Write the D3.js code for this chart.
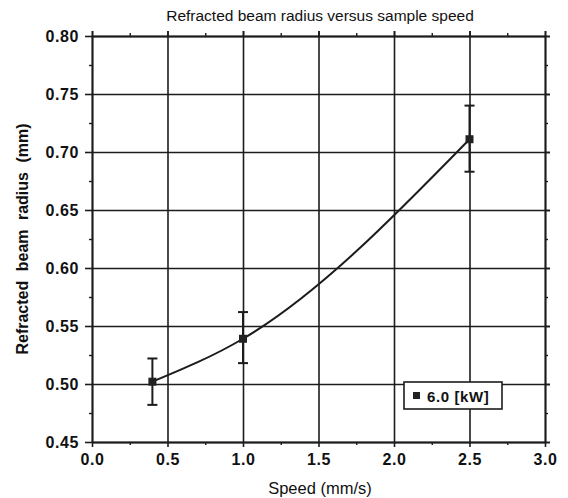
<!DOCTYPE html>
<html>
<head>
<meta charset="utf-8">
<script src="https://cdn.jsdelivr.net/npm/d3@7"></script>
<style>
  body { margin: 0; background: #fff; }
  svg { display: block; }
</style>
</head>
<body>
<div id="chart"></div>
<script>
// data
const speed = [0.4, 1.0, 2.5];
const radius = [0.502, 0.539, 0.711];
const errLow = [0.482, 0.518, 0.683];
const errHigh = [0.522, 0.562, 0.740];
const xTicks = [0.0, 0.5, 1.0, 1.5, 2.0, 2.5, 3.0];
const yTicks = [0.45, 0.50, 0.55, 0.60, 0.65, 0.70, 0.75, 0.80];
const xMinor = [0.25, 0.75, 1.25, 1.75, 2.25, 2.75];
const yMinor = [0.475, 0.525, 0.575, 0.625, 0.675, 0.725, 0.775];
const seriesName = "6.0 [kW]";

const width = 568;
const height = 498;
const margin = { top: 36, right: 23, bottom: 56, left: 92 };
const ink = "#1c1c1c";
const font = "Liberation Sans, Arial, sans-serif";

const svg = d3
  .select("#chart")
  .append("svg")
  .attr("width", width)
  .attr("height", height);

const x = d3
  .scaleLinear()
  .domain([0, 3])
  .range([margin.left, width - margin.right]);

const y = d3
  .scaleLinear()
  .domain([0.45, 0.8])
  .range([height - margin.bottom, margin.top]);

const plotW = x(3) - x(0);
const plotH = y(0.45) - y(0.8);

// grid lines (run a bit past the frame like the original)
svg
  .append("g")
  .attr("transform", `translate(${x(0)},0)`)
  .call(d3.axisRight(y).tickValues(yTicks).tickSize(plotW + 5).tickFormat(""))
  .call((g) => g.select(".domain").remove())
  .call((g) => g.selectAll("line").attr("stroke", ink).attr("stroke-width", 1.6));

svg
  .append("g")
  .attr("transform", `translate(0,${y(0.45)})`)
  .call(d3.axisTop(x).tickValues(xTicks).tickSize(plotH + 5).tickFormat(""))
  .call((g) => g.select(".domain").remove())
  .call((g) => g.selectAll("line").attr("stroke", ink).attr("stroke-width", 1.6));

// minor ticks, outward
const minorStyle = (g) => {
  g.select(".domain").remove();
  g.selectAll("line").attr("stroke", ink).attr("stroke-width", 1.4);
};
svg.append("g").attr("transform", `translate(${x(0)},0)`)
  .call(d3.axisLeft(y).tickValues(yMinor).tickSize(3).tickFormat("")).call(minorStyle);
svg.append("g").attr("transform", `translate(${x(3)},0)`)
  .call(d3.axisRight(y).tickValues(yMinor).tickSize(3).tickFormat("")).call(minorStyle);
svg.append("g").attr("transform", `translate(0,${y(0.8)})`)
  .call(d3.axisTop(x).tickValues(xMinor).tickSize(3).tickFormat("")).call(minorStyle);
svg.append("g").attr("transform", `translate(0,${y(0.45)})`)
  .call(d3.axisBottom(x).tickValues(xMinor).tickSize(3).tickFormat("")).call(minorStyle);

// major axes with labels
const labelStyle = (g) => {
  g.select(".domain").attr("stroke", ink).attr("stroke-width", 1.8);
  g.selectAll("line").attr("stroke", ink).attr("stroke-width", 1.6);
  g.selectAll("text")
    .attr("fill", "#111")
    .attr("font-family", font)
    .attr("font-size", "16px")
    .attr("font-weight", "bold")
    .attr("letter-spacing", "0.6px");
};

svg
  .append("g")
  .attr("transform", `translate(${x(0)},0)`)
  .call(d3.axisLeft(y).tickValues(yTicks).tickSize(7).tickSizeOuter(0).tickPadding(6).tickFormat(d3.format(".2f")))
  .call(labelStyle);

svg
  .append("g")
  .attr("transform", `translate(0,${y(0.45)})`)
  .call(d3.axisBottom(x).tickValues(xTicks).tickSize(5).tickSizeOuter(0).tickPadding(7).tickFormat(d3.format(".1f")))
  .call(labelStyle);

svg
  .append("g")
  .attr("transform", `translate(0,${y(0.8)})`)
  .call(d3.axisTop(x).tickValues(xTicks).tickSize(5).tickSizeOuter(0).tickFormat(""))
  .call(labelStyle);

svg
  .append("g")
  .attr("transform", `translate(${x(3)},0)`)
  .call(d3.axisRight(y).tickValues(yTicks).tickSize(5).tickSizeOuter(0).tickFormat(""))
  .call(labelStyle);

// fitted curve through the points
const pts = speed.map((s, i) => [s, radius[i]]);
svg
  .append("path")
  .datum(pts)
  .attr("fill", "none")
  .attr("stroke", ink)
  .attr("stroke-width", 2)
  .attr("d", d3.line().x((d) => x(d[0])).y((d) => y(d[1])).curve(d3.curveMonotoneX));

// error bars
const bars = svg.append("g").attr("stroke", ink).attr("stroke-width", 2);
speed.forEach((s, i) => {
  bars.append("line")
    .attr("x1", x(s)).attr("x2", x(s))
    .attr("y1", y(errLow[i])).attr("y2", y(errHigh[i]));
  [errLow[i], errHigh[i]].forEach((v) => {
    bars.append("line")
      .attr("x1", x(s) - 5).attr("x2", x(s) + 5)
      .attr("y1", y(v)).attr("y2", y(v));
  });
});

// markers
svg
  .append("g")
  .attr("fill", "#222")
  .selectAll("rect")
  .data(pts)
  .join("rect")
  .attr("x", (d) => x(d[0]) - 4)
  .attr("y", (d) => y(d[1]) - 4)
  .attr("width", 8)
  .attr("height", 8);

// legend
const legend = svg.append("g").attr("transform", "translate(404,382)");
legend
  .append("rect")
  .attr("width", 98)
  .attr("height", 27)
  .attr("fill", "#fff")
  .attr("stroke", ink)
  .attr("stroke-width", 1.6);
legend
  .append("rect")
  .attr("x", 9)
  .attr("y", 10)
  .attr("width", 7)
  .attr("height", 7)
  .attr("fill", "#222");
legend
  .append("text")
  .attr("x", 23)
  .attr("y", 19.5)
  .attr("font-family", font)
  .attr("font-size", "15px")
  .attr("font-weight", "bold")
  .attr("letter-spacing", "0.6px")
  .attr("fill", "#111")
  .text(seriesName);

// titles
svg
  .append("text")
  .attr("x", 320)
  .attr("y", 21)
  .attr("text-anchor", "middle")
  .attr("font-family", font)
  .attr("font-size", "15.5px")
  .attr("fill", "#111")
  .text("Refracted beam radius versus sample speed");

svg
  .append("text")
  .attr("x", 320)
  .attr("y", 494)
  .attr("text-anchor", "middle")
  .attr("font-family", font)
  .attr("font-size", "16.5px")
  .attr("fill", "#111")
  .text("Speed (mm/s)");

svg
  .append("text")
  .attr("transform", `translate(28,${(y(0.45) + y(0.8)) / 2}) rotate(-90)`)
  .attr("text-anchor", "middle")
  .attr("font-family", font)
  .attr("font-size", "16px")
  .attr("font-weight", "bold")
  .attr("word-spacing", "5px")
  .attr("fill", "#111")
  .text("Refracted beam radius (mm)");
</script>
</body>
</html>
